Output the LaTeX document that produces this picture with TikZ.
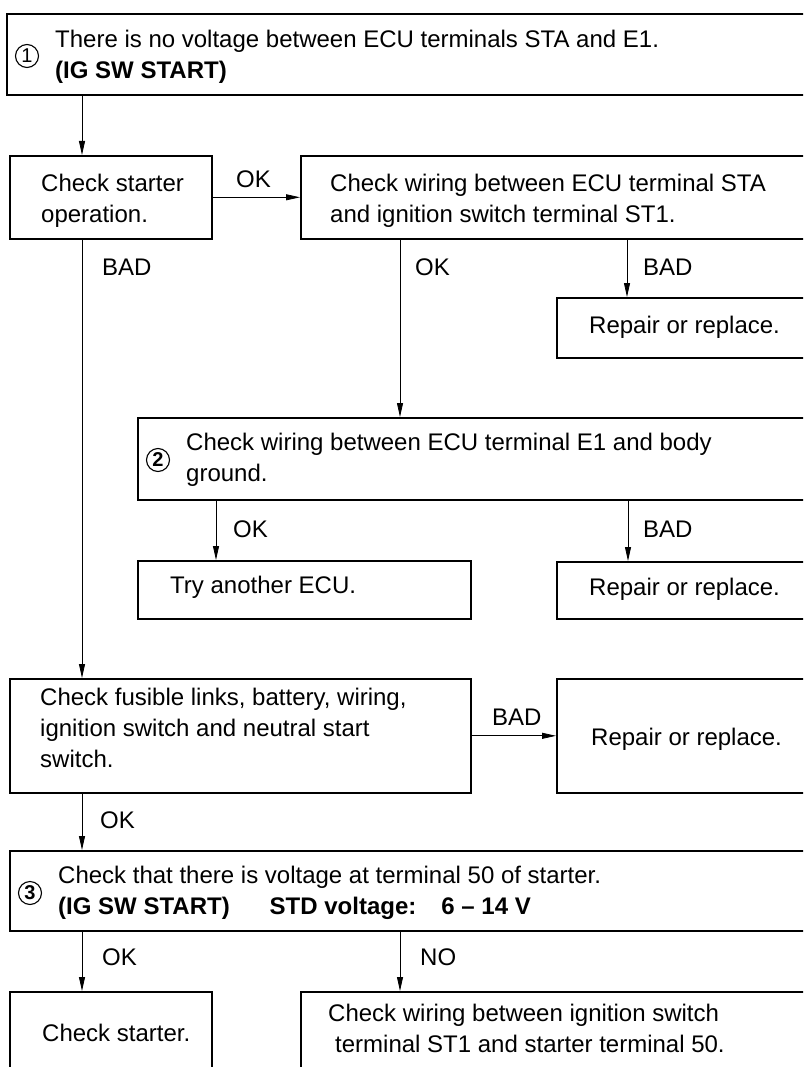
\documentclass[tikz,border=0pt]{standalone}
\usepackage{fontspec}
\setmainfont{Liberation Sans}
\usetikzlibrary{arrows.meta}
\begin{document}
\begin{tikzpicture}[x=1pt,y=-1pt,
  box/.style={draw, line width=1.6pt, rectangle, anchor=north west, inner sep=0pt},
  txt/.style={anchor=north west, inner sep=0pt, align=left, font=\fontsize{24}{31}\selectfont},
  lbl/.style={anchor=west, inner sep=0pt, font=\fontsize{24}{31}\selectfont},
  num/.style={circle, draw, line width=1.1pt, minimum size=23pt, inner sep=0pt, font=\fontsize{20}{20}\selectfont},
  arr/.style={line width=0.8pt, -{Triangle[length=14pt,width=6pt]}}]
\path[use as bounding box, fill=white] (0,0) rectangle (803,1067);
\clip (0,0) rectangle (803,1067);
% boxes
\node[box, minimum width=856pt, minimum height=81pt] (top) at (6,13) {};
\node[txt] (ttop) at (55,30) {There is no voltage between ECU terminals STA and E1.\\\textbf{(IG SW START)}};
\node[num] (n1) at (27,56) {1};
\node[box, minimum width=202pt, minimum height=83pt] (A) at (9,155) {};
\node[txt] (tA) at (41,174) {Check starter\\operation.};
\node[box, minimum width=560pt, minimum height=83pt] (B) at (300,155) {};
\node[txt] (tB) at (330,174) {Check wiring between ECU terminal STA\\and ignition switch terminal ST1.};
\node[box, minimum width=300pt, minimum height=60pt] (R1) at (556,297) {};
\node[txt] (tR1) at (589,316) {Repair or replace.};
\node[box, minimum width=720pt, minimum height=82pt] (C) at (137,417) {};
\node[txt] (tC) at (186,433) {Check wiring between ECU terminal E1 and body\\ground.};
\node[num] (n2) at (158,460) {\bfseries 2};
\node[box, minimum width=333pt, minimum height=58pt] (T) at (137,560) {};
\node[txt] (tT) at (170,576) {Try another ECU.};
\node[box, minimum width=300pt, minimum height=57pt] (R2) at (556,561) {};
\node[txt] (tR2) at (589,578) {Repair or replace.};
\node[box, minimum width=461pt, minimum height=114pt] (D) at (9,678) {};
\node[txt] (tD) at (40,688) {Check fusible links, battery, wiring,\\ignition switch and neutral start\\switch.};
\node[box, minimum width=300pt, minimum height=114pt] (R3) at (556,678) {};
\node[txt] (tR3) at (591,728) {Repair or replace.};
\node[box, minimum width=850pt, minimum height=80pt] (E) at (9,850) {};
\node[txt] (tE) at (58,866) {Check that there is voltage at terminal 50 of starter.\\\textbf{(IG SW START)}\hspace{40pt}\textbf{STD voltage:}\hspace{25pt}\textbf{6 – 14 V}};
\node[num] (n3) at (30,893) {\bfseries 3};
\node[box, minimum width=202pt, minimum height=100pt] (S) at (9,991) {};
\node[txt] (tS) at (42,1024) {Check starter.};
\node[box, minimum width=560pt, minimum height=100pt] (W) at (300,991) {};
\node[txt] (tW) at (328,1004) {Check wiring between ignition switch\\\hspace*{7pt}terminal ST1 and starter terminal 50.};
% connectors
\draw[arr] ([xshift=76pt]top.south west) -- ([xshift=73pt]A.north west);
\draw[arr] (A.east) -- (B.west);
\draw[arr] ([xshift=73pt]A.south west) -- ([xshift=73pt]D.north west);
\draw[arr] ([xshift=100pt]B.south west) -- ([xshift=263pt]C.north west);
\draw[arr] ([xshift=327pt]B.south west) -- ([xshift=71pt]R1.north west);
\draw[arr] ([xshift=79pt]C.south west) -- ([xshift=79pt]T.north west);
\draw[arr] ([xshift=491pt]C.south west) -- ([xshift=72pt]R2.north west);
\draw[arr] (D.east) -- (R3.west);
\draw[arr] ([xshift=73pt]D.south west) -- ([xshift=73pt]E.north west);
\draw[arr] ([xshift=73pt]E.south west) -- ([xshift=73pt]S.north west);
\draw[arr] ([xshift=391pt]E.south west) -- ([xshift=100pt]W.north west);
% labels
\node[lbl] (l1) at (236,179) {OK};
\node[lbl] (l2) at (102,267) {BAD};
\node[lbl] (l3) at (415,267) {OK};
\node[lbl] (l4) at (643,267) {BAD};
\node[lbl] (l5) at (233,529) {OK};
\node[lbl] (l6) at (643,529) {BAD};
\node[lbl] (l7) at (492,717) {BAD};
\node[lbl] (l8) at (100,820) {OK};
\node[lbl] (l9) at (102,957) {OK};
\node[lbl] (l10) at (420,957) {NO};
\end{tikzpicture}
\end{document}
